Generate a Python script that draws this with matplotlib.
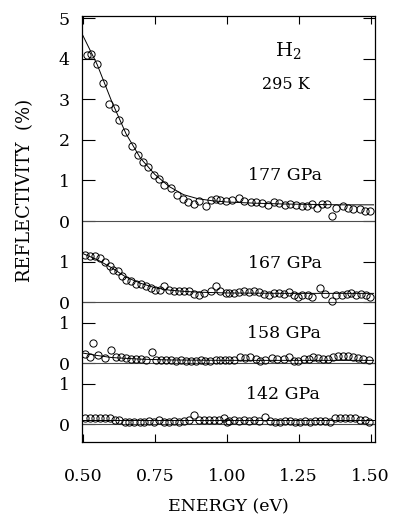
import matplotlib
matplotlib.use("Agg")
import matplotlib.pyplot as plt

plt.rcParams['font.family'] = ['DejaVu Serif']

# offsets of each spectrum (data units on the shared axis)
offsets = [5.0, 3.0, 1.5, 0.0]
labels = ['177 GPa', '167 GPa', '158 GPa', '142 GPa']

# 177 GPa
e177 = [0.514, 0.528, 0.548, 0.569, 0.590, 0.610, 0.627, 0.648, 0.669, 0.690, 0.710, 0.727,
        0.748, 0.766, 0.783, 0.807, 0.828, 0.848, 0.866, 0.886, 0.904, 0.928, 0.945, 0.962,
        0.977, 0.997, 1.019, 1.042, 1.060, 1.083, 1.103, 1.123, 1.142, 1.163, 1.180, 1.203,
        1.220, 1.241, 1.261, 1.278, 1.295, 1.312, 1.330, 1.347, 1.364, 1.381, 1.404, 1.422,
        1.439, 1.462, 1.479, 1.497]
r177 = [4.10, 4.11, 3.87, 3.40, 2.88, 2.78, 2.49, 2.19, 1.85, 1.62, 1.45, 1.33,
        1.13, 1.04, 0.88, 0.81, 0.64, 0.55, 0.47, 0.42, 0.49, 0.36, 0.53, 0.55,
        0.53, 0.49, 0.51, 0.57, 0.49, 0.47, 0.47, 0.45, 0.39, 0.47, 0.45, 0.39,
        0.41, 0.39, 0.37, 0.37, 0.41, 0.33, 0.41, 0.41, 0.12, 0.33, 0.37, 0.33,
        0.29, 0.29, 0.25, 0.25]
fe177 = [0.50, 0.55, 0.60, 0.65, 0.70, 0.75, 0.80, 0.85, 0.90, 0.95, 1.00, 1.10, 1.20, 1.30, 1.40, 1.51]
fr177 = [4.57, 3.85, 2.95, 2.15, 1.55, 1.15, 0.85, 0.65, 0.55, 0.50, 0.47, 0.44, 0.42, 0.41, 0.40, 0.40]

# 167 GPa
e167 = [0.507, 0.524, 0.541, 0.561, 0.576, 0.593, 0.605, 0.622, 0.637, 0.651, 0.668, 0.685,
        0.702, 0.720, 0.737, 0.752, 0.768, 0.783, 0.800, 0.817, 0.834, 0.852, 0.869, 0.886,
        0.903, 0.921, 0.944, 0.963, 0.978, 0.996, 1.008, 1.025, 1.043, 1.060, 1.077, 1.094,
        1.112, 1.129, 1.146, 1.163, 1.180, 1.198, 1.215, 1.232, 1.247, 1.263, 1.281, 1.297,
        1.324, 1.341, 1.366, 1.381, 1.399, 1.416, 1.433, 1.450, 1.468, 1.485, 1.497]
r167 = [1.17, 1.13, 1.13, 1.09, 0.99, 0.89, 0.80, 0.76, 0.64, 0.56, 0.52, 0.44,
        0.44, 0.39, 0.35, 0.31, 0.31, 0.39, 0.31, 0.27, 0.29, 0.27, 0.27, 0.21,
        0.19, 0.23, 0.27, 0.39, 0.27, 0.23, 0.23, 0.23, 0.25, 0.27, 0.25, 0.27,
        0.25, 0.21, 0.19, 0.23, 0.23, 0.21, 0.25, 0.17, 0.12, 0.19, 0.17, 0.12,
        0.35, 0.21, 0.02, 0.19, 0.19, 0.21, 0.23, 0.17, 0.21, 0.17, 0.12]
fe167 = [0.50, 0.55, 0.60, 0.65, 0.70, 0.75, 0.80, 0.85, 0.90, 1.00, 1.20, 1.51]
fr167 = [1.20, 1.05, 0.85, 0.62, 0.47, 0.36, 0.30, 0.27, 0.25, 0.23, 0.22, 0.22]

# 158 GPa
e158 = [0.507, 0.524, 0.536, 0.553, 0.576, 0.599, 0.616, 0.633, 0.651, 0.668, 0.685, 0.702,
        0.720, 0.740, 0.754, 0.771, 0.789, 0.806, 0.823, 0.840, 0.857, 0.875, 0.892, 0.909,
        0.926, 0.943, 0.961, 0.978, 0.995, 1.008, 1.025, 1.045, 1.063, 1.082, 1.100, 1.117,
        1.134, 1.157, 1.175, 1.198, 1.215, 1.232, 1.249, 1.267, 1.284, 1.301, 1.318, 1.336,
        1.353, 1.370, 1.387, 1.405, 1.422, 1.439, 1.456, 1.474, 1.493]
r158 = [0.22, 0.16, 0.49, 0.20, 0.12, 0.33, 0.16, 0.16, 0.12, 0.11, 0.11, 0.11,
        0.08, 0.27, 0.08, 0.08, 0.08, 0.08, 0.06, 0.08, 0.06, 0.06, 0.06, 0.08,
        0.06, 0.06, 0.08, 0.08, 0.08, 0.08, 0.08, 0.16, 0.12, 0.16, 0.11, 0.06,
        0.08, 0.12, 0.11, 0.11, 0.16, 0.06, 0.06, 0.11, 0.11, 0.16, 0.14, 0.11,
        0.11, 0.16, 0.19, 0.19, 0.19, 0.16, 0.12, 0.11, 0.08]
fe158 = [0.50, 0.55, 0.60, 0.70, 0.80, 1.00, 1.51]
fr158 = [0.25, 0.19, 0.14, 0.10, 0.08, 0.07, 0.07]

# 142 GPa
e142 = [0.507, 0.524, 0.541, 0.558, 0.576, 0.593, 0.610, 0.627, 0.645, 0.662, 0.679, 0.697,
        0.714, 0.731, 0.748, 0.766, 0.783, 0.800, 0.817, 0.834, 0.852, 0.869, 0.886, 0.903,
        0.921, 0.938, 0.955, 0.972, 0.990, 1.001, 1.008, 1.025, 1.043, 1.060, 1.077, 1.094,
        1.112, 1.134, 1.151, 1.169, 1.186, 1.203, 1.220, 1.237, 1.255, 1.272, 1.289, 1.306,
        1.324, 1.341, 1.358, 1.375, 1.393, 1.410, 1.428, 1.445, 1.462, 1.479, 1.493]
r142 = [0.16, 0.16, 0.16, 0.16, 0.14, 0.14, 0.11, 0.10, 0.06, 0.06, 0.06, 0.06,
        0.06, 0.08, 0.06, 0.11, 0.06, 0.06, 0.08, 0.06, 0.08, 0.11, 0.22, 0.11,
        0.11, 0.10, 0.11, 0.11, 0.14, 0.06, 0.08, 0.11, 0.08, 0.10, 0.08, 0.11,
        0.08, 0.18, 0.08, 0.06, 0.06, 0.08, 0.08, 0.06, 0.06, 0.08, 0.06, 0.08,
        0.08, 0.08, 0.06, 0.14, 0.14, 0.16, 0.14, 0.16, 0.11, 0.10, 0.06]
fe142 = [0.50, 1.00, 1.51]
fr142 = [0.09, 0.09, 0.09]

points = [(e177, r177), (e167, r167), (e158, r158), (e142, r142)]
fits = [(fe177, fr177), (fe167, fr167), (fe158, fr158), (fe142, fr142)]
label_x = [1.202, 1.202, 1.198, 1.195]
label_y = [6.13, 3.96, 2.24, 0.74]

fig = plt.figure(figsize=(3.96, 5.19), dpi=100)
ax = fig.add_axes([82/396, 1 - 442/519, (375 - 82)/396, (442 - 16)/519])

for off, (e, r), (fe, fr), lab, lx, ly in zip(offsets, points, fits, labels, label_x, label_y):
    ax.axhline(off, color='0.3', lw=0.8)
    ax.plot(fe, [v + off for v in fr], color='k', lw=0.7)
    ax.plot(e, [v + off for v in r], 'o', mfc='none', mec='k', ms=5.2, mew=0.7)
    ax.text(lx, ly, lab, ha='center', va='center', fontsize=12.5)

ax.text(1.212, 9.21, r'H$_2$', ha='center', va='center', fontsize=14,
        math_fontfamily='dejavuserif')
ax.text(1.205, 8.37, '295 K', ha='center', va='center', fontsize=11.5)

ax.set_xlim(0.497, 1.515)
ax.set_ylim(-0.44, 10.05)

ax.set_xticks([0.50, 0.75, 1.00, 1.25, 1.50])
ax.set_xticklabels(['0.50', '0.75', '1.00', '1.25', '1.50'])
ax.set_yticks([10, 9, 8, 7, 6, 5, 4, 3, 2.5, 1.5, 1.0, 0])
ax.set_yticklabels(['5', '4', '3', '2', '1', '0', '1', '0', '1', '0', '1', '0'])
ax.tick_params(axis='x', direction='in', length=6, width=0.8, pad=19, labelsize=12.5,
               top=True)
ax.tick_params(axis='y', direction='in', length=9, width=0.8, pad=9, labelsize=12.5,
               right=True)
for s in ax.spines.values():
    s.set_linewidth(0.9)

fig.text(0.5 * (82 + 375) / 396, 1 - 507 / 519, 'ENERGY (eV)', ha='center', va='center',
         fontsize=12.5)
fig.text(25 / 396, 1 - 190 / 519, 'REFLECTIVITY  (%)', rotation=90, ha='center',
         va='center', fontsize=13)

fig.savefig('out.png', dpi=100)
